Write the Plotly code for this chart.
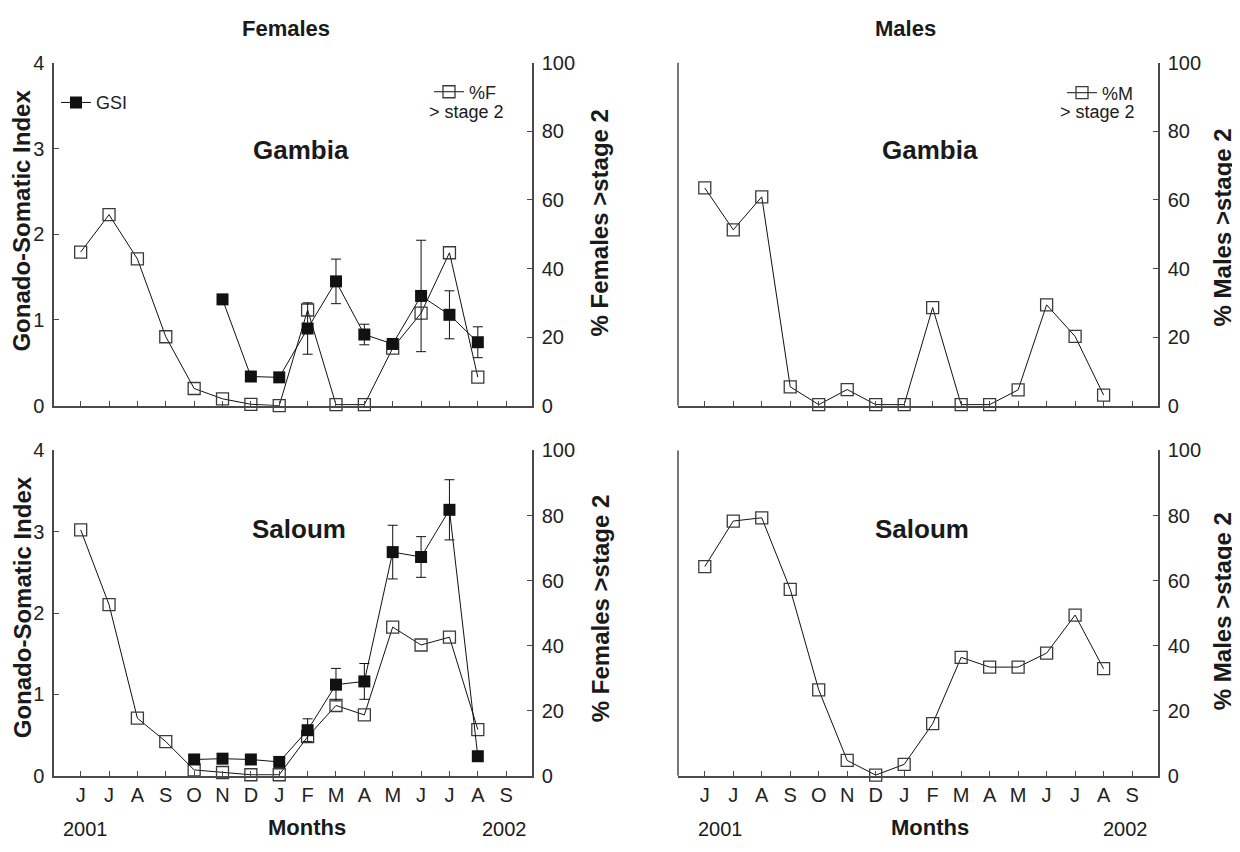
import plotly.graph_objects as go

# page is 1240x852; the HTML body adds an 8px margin, so the figure is drawn 8px smaller
PAGE_W, PAGE_H = 1240, 852
OFF = 8
FW, FH = PAGE_W - OFF, PAGE_H - OFF

# ---------------- data ----------------
month_labels = ["J", "J", "A", "S", "O", "N", "D", "J", "F", "M", "A", "M", "J", "J", "A", "S"]
n_obs = 15  # June 2001 .. August 2002

fem_gambia_pct = [44.8, 55.7, 42.8, 20.1, 5.0, 2.0, 0.4, 0.0, 27.9, 0.3, 0.3, 16.8, 27.0, 44.6, 8.3]
fem_gambia_gsi = [None, None, None, None, None, 1.24, 0.34, 0.33, 0.90, 1.45, 0.83, 0.72, 1.28, 1.06, 0.74]
fem_gambia_err = [None, None, None, None, None, 0.0, 0.0, 0.03, 0.30, 0.26, 0.12, 0.03, 0.65, 0.28, 0.18]

fem_saloum_pct = [75.6, 52.6, 17.7, 10.5, 1.8, 1.0, 0.3, 0.3, 12.0, 21.6, 18.7, 45.7, 40.2, 42.6, 14.2]
fem_saloum_gsi = [None, None, None, None, 0.20, 0.21, 0.20, 0.17, 0.56, 1.12, 1.16, 2.75, 2.69, 3.27, 0.24]
fem_saloum_err = [None, None, None, None, 0.02, 0.02, 0.02, 0.02, 0.14, 0.20, 0.22, 0.33, 0.25, 0.37, 0.03]

male_gambia_pct = [63.5, 51.3, 60.9, 5.5, 0.3, 4.7, 0.3, 0.3, 28.6, 0.3, 0.3, 4.6, 29.4, 20.2, 3.1]
male_saloum_pct = [64.3, 78.3, 79.3, 57.3, 26.4, 4.7, 0.2, 3.5, 16.0, 36.4, 33.4, 33.4, 37.7, 49.4, 32.9]

gsi_ticks = [0, 1, 2, 3, 4]
pct_ticks = [0, 20, 40, 60, 80, 100]

# ---------------- style ----------------
FONT = "Liberation Sans, Arial, sans-serif"
AXC = "#4a4a4a"
x_idx = list(range(n_obs))


def P(px, py):
    """page pixel -> paper coordinates"""
    return (px - OFF) / FW, 1 - (py - OFF) / FH


def open_sq(x, y, yaxis, xaxis, name, legend=None, show=False):
    return go.Scatter(
        x=x, y=y, xaxis=xaxis, yaxis=yaxis, mode="lines+markers", name=name,
        line=dict(color="#111", width=1),
        marker=dict(symbol="square-open", size=12, color="#3a3a3a", line=dict(width=1.3)),
        cliponaxis=False, showlegend=show, legend=legend,
    )


def filled_sq(x, y, err, yaxis, xaxis, name, legend=None, show=False):
    return go.Scatter(
        x=x, y=y, xaxis=xaxis, yaxis=yaxis, mode="lines+markers", name=name,
        line=dict(color="#111", width=1),
        marker=dict(symbol="square", size=12, color="#111"),
        error_y=dict(type="data", array=err, color="#111", thickness=1, width=5),
        cliponaxis=False, showlegend=show, legend=legend, connectgaps=False,
    )


fig = go.Figure()
# top-left: Females Gambia
fig.add_trace(open_sq(x_idx, fem_gambia_pct, "y", "x", "%F", legend="legend2", show=True))
fig.add_trace(filled_sq(x_idx, fem_gambia_gsi, fem_gambia_err, "y2", "x", "GSI", legend="legend", show=True))
# bottom-left: Females Saloum
fig.add_trace(open_sq(x_idx, fem_saloum_pct, "y3", "x2", "%F Saloum"))
fig.add_trace(filled_sq(x_idx, fem_saloum_gsi, fem_saloum_err, "y4", "x2", "GSI Saloum"))
# top-right: Males Gambia
fig.add_trace(open_sq(x_idx, male_gambia_pct, "y5", "x3", "%M", legend="legend3", show=True))
# bottom-right: Males Saloum
fig.add_trace(open_sq(x_idx, male_saloum_pct, "y6", "x4", "%M Saloum"))


def xdom(a, b):
    return [P(a, 0)[0], P(b, 0)[0]]


def ydom(top, bottom):
    return [P(0, bottom)[1], P(0, top)[1]]


LX = xdom(54, 532)
RX = xdom(678, 1158)
TY = ydom(53, 405)
BY = ydom(451, 785)
XR = [-0.94, 15.91]

tickfont = dict(family=FONT, size=20, color="#222")


def xax(domain, anchor, labels):
    return dict(domain=domain, anchor=anchor, range=XR, tickmode="array",
                tickvals=list(range(len(month_labels))), ticktext=month_labels,
                showticklabels=labels, ticks="inside", ticklen=5, tickcolor=AXC, tickwidth=1,
                showline=True, linecolor=AXC, linewidth=1.5, showgrid=False, zeroline=False,
                tickfont=tickfont, ticklabelstandoff=1)


def yax(domain, anchor, side, rng, tickvals, overlaying=None):
    d = dict(domain=domain, anchor=anchor, side=side, range=rng, tickmode="array",
             tickvals=tickvals, ticks="inside", ticklen=5, tickcolor=AXC, tickwidth=1,
             showline=True, linecolor=AXC, linewidth=1.5, showgrid=False, zeroline=False,
             tickfont=tickfont, ticklabelstandoff=4)
    if overlaying:
        d["overlaying"] = overlaying
    return d


layout = dict(
    width=FW, height=FH, margin=dict(l=0, r=0, t=0, b=0),
    paper_bgcolor="white", plot_bgcolor="rgba(0,0,0,0)",
    font=dict(family=FONT, color="#222"),
    xaxis=xax(LX, "y", False),
    xaxis2=xax(LX, "y3", True),
    xaxis3=xax(RX, "y5", False),
    xaxis4=xax(RX, "y6", True),
    yaxis=yax(TY, "x", "right", [0, 100], pct_ticks),
    yaxis2=yax(TY, "x", "left", [0, 4], gsi_ticks, overlaying="y"),
    yaxis3=yax(BY, "x2", "right", [0, 100], pct_ticks),
    yaxis4=yax(BY, "x2", "left", [0, 4], gsi_ticks, overlaying="y3"),
    yaxis5=yax(TY, "x3", "right", [0, 100], pct_ticks),
    yaxis6=yax(BY, "x4", "right", [0, 100], pct_ticks),
)

legfont = dict(family=FONT, size=18, color="#222")
lx, ly = P(56, 75)
layout["legend"] = dict(x=lx, y=ly, xanchor="left", yanchor="top", bgcolor="rgba(0,0,0,0)",
                        font=legfont, itemwidth=30)
lx, ly = P(429, 64)
layout["legend2"] = dict(x=lx, y=ly, xanchor="left", yanchor="top", bgcolor="rgba(0,0,0,0)",
                         font=legfont, itemwidth=30)
lx, ly = P(1062, 65)
layout["legend3"] = dict(x=lx, y=ly, xanchor="left", yanchor="top", bgcolor="rgba(0,0,0,0)",
                         font=legfont, itemwidth=30)

fig.update_layout(**layout)

# left axis line of the male panels (no ticks)
for xr, yr in [("x3 domain", "y5 domain"), ("x4 domain", "y6 domain")]:
    fig.add_shape(type="line", xref=xr, yref=yr, x0=0, x1=0, y0=0, y1=1,
                  line=dict(color=AXC, width=1.5))


def ann(text, px, py, size, bold=False, angle=0, xanchor="center"):
    x, y = P(px, py)
    fig.add_annotation(text=text, x=x, y=y, xref="paper", yref="paper", showarrow=False,
                       xanchor=xanchor, yanchor="middle", textangle=angle,
                       font=dict(family=FONT, size=size, color="#1a1a1a",
                                 weight="bold" if bold else "normal"))


ann("Females", 286, 18, 22, True)
ann("Males", 905, 18, 22, True)
ann("Gambia", 301, 142, 26, True)
ann("Saloum", 299, 532, 26, True)
ann("Gambia", 930, 142, 26, True)
ann("Saloum", 922, 532, 26, True)
ann("Gonado-Somatic Index", 22, 215, 24, True, -90)
ann("Gonado-Somatic Index", 22, 612, 24, True, -90)
ann("% Females >stage 2", 600, 218, 24, True, -90)
ann("% Females >stage 2", 600, 614, 24, True, -90)
ann("% Males >stage 2", 1222, 222, 24, True, -90)
ann("% Males >stage 2", 1222, 616, 24, True, -90)
ann("Months", 307, 838, 22, True)
ann("Months", 930, 838, 22, True)
ann("2001", 85, 840, 20)
ann("2002", 505, 840, 20)
ann("2001", 720, 840, 20)
ann("2002", 1125, 840, 20)
ann("> stage 2", 427, 104, 18, xanchor="left")
ann("> stage 2", 1058, 104, 18, xanchor="left")

fig.write_html("out.html")
